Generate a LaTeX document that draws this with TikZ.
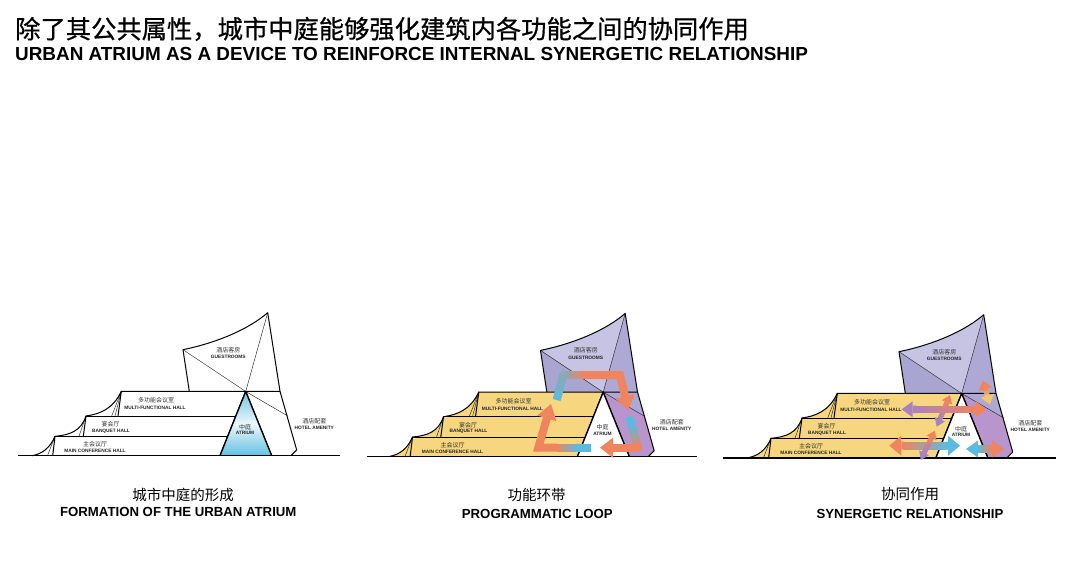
\documentclass[tikz,border=0pt]{standalone}
\usepackage{fontspec}
\setmainfont{Liberation Sans}
\newfontfamily\cjk{Noto Sans CJK SC}
\newfontfamily\cjkb[FakeBold=0.6]{Noto Sans CJK SC}
\usetikzlibrary{calc}
\definecolor{hallY}{HTML}{F6D67E}
\definecolor{gTop}{HTML}{C6C3E3}
\definecolor{gLeft}{HTML}{A9A5D1}
\definecolor{gRight}{HTML}{ADA8D4}
\definecolor{hotelP}{HTML}{B895CD}
\definecolor{arO}{HTML}{F0845F}
\definecolor{arB}{HTML}{5BBBDF}
\definecolor{arP}{HTML}{A882C0}
\definecolor{arY}{HTML}{F3C96B}
\definecolor{atTop}{HTML}{6FC4E4}
\definecolor{atBot}{HTML}{62C0E4}
\tikzset{
  bline/.style={line width=1pt,black,line join=round},
  thinline/.style={line width=.45pt,black!85},
  ground/.style={line width=1.3pt,black},
  cn/.style={inner sep=0pt,font=\cjk\fontsize{6}{7}\selectfont,text=black!80},
  en/.style={inner sep=0pt,font=\bfseries\fontsize{4.8}{5}\selectfont,text=black!85},
  capcn/.style={inner sep=0pt,font=\cjk\fontsize{14.5}{16}\selectfont},
  capen/.style={inner sep=0pt,font=\bfseries\fontsize{13.2}{14}\selectfont},
}
% gradient shaft: from, to, colour, colour, width
\newcommand{\gshaft}[5]{%
  \foreach \i in {0,...,19}{%
    \pgfmathsetmacro\gta{\i/20}%
    \pgfmathsetmacro\gtb{min(1,(\i+1.3)/20)}%
    \pgfmathtruncatemacro\gpc{5*\i+2}%
    \draw[line width=#5,color={#4!\gpc!#3}] ($(#1)!\gta!(#2)$) -- ($(#1)!\gtb!(#2)$);
  }}
% head: tip, towards, colour, length, half width
\newcommand{\ahead}[5]{%
  \coordinate (hb) at ($(#1)!#4!(#2)$);
  \fill[#3] (#1) -- ($(hb)!#5!90:(#2)$) -- ($(hb)!#5!-90:(#2)$) -- cycle;}
% double arrow: A, B, colour A, colour B, shaft width, head length, head half width
\newcommand{\dbl}[7]{%
  \coordinate (ha) at ($(#1)!#6!(#2)$);
  \coordinate (hc) at ($(#2)!#6!(#1)$);
  \gshaft{ha}{hc}{#3}{#4}{#5}
  \ahead{#1}{#2}{#3}{#6}{#7}
  \ahead{#2}{#1}{#4}{#6}{#7}}
% building: prefix, hall colour, side colour, top, left, right, hotel lower, hotel upper, dx, dy
\newcommand{\building}[9]{%
\begin{scope}[shift={(#9)}]
  \coordinate (#1top) at (267.7,312.7);
  \coordinate (#1left) at (183,349.7);
  \coordinate (#1lb) at (189.3,391.3);
  \coordinate (#1apex) at (245.7,391.5);
  \coordinate (#1lr) at (280,391.3);
  \coordinate (#1de) at (287.3,415.7);
  \coordinate (#1hr) at (296.7,450);
  \coordinate (#1hb) at (291,455.7);
  \coordinate (#1ar) at (271.7,455.7);
  \coordinate (#1al) at (220,455.7);
  \coordinate (#1t3) at (121.3,391.3);
  \coordinate (#1t2) at (86,416);
  \coordinate (#1t1) at (55,436.3);
  \coordinate (#1t0) at (32,455.7);
  \coordinate (#1e2) at (236,416);
  \coordinate (#1e1) at (228,436.3);
  % fills
  \fill[#2] (#1t0) .. controls (42,454) and (50,448) .. (#1t1)
     .. controls (70,435) and (81,431) .. (#1t2)
     .. controls (100,414) and (113,409) .. (#1t3)
     -- (#1apex) -- (#1al) -- cycle;
  \fill[#3] (#1left) .. controls (220,342) and (250,328) .. (#1top) -- (#1apex) -- cycle;
  \fill[#4] (#1left) -- (#1apex) -- (#1lb) -- cycle;
  \fill[#5] (#1top) -- (#1lr) -- (#1apex) -- cycle;
  \fill[#6] (#1apex) -- (#1lr) -- (#1de) -- cycle;
  \fill[#7] (#1apex) -- (#1de) -- (#1hr) -- (#1hb) -- (#1ar) -- cycle;
  % thin lines
  \draw[thinline] (#1left) -- (#1apex) -- (#1de);
  \draw[thinline] (#1top) -- (#1apex);
  \draw[thinline] (#1t3) -- (111.7,416);
  \draw[thinline] (#1t3) -- (115,416);
  \draw[thinline] (#1t2) -- (79,436.3);
  \draw[thinline] (#1t1) -- (47.5,455.7);
  % heavy lines
  \draw[bline] (#1t0) .. controls (42,454) and (50,448) .. (#1t1)
     .. controls (70,435) and (81,431) .. (#1t2)
     .. controls (100,414) and (113,409) .. (#1t3) -- (#1lr);
  \draw[bline] (#1t2) -- (#1e2);
  \draw[bline] (#1t1) -- (#1e1);
  \draw[bline] (#1t2) -- (83.3,436.3);
  \draw[bline] (#1t1) -- (52.7,455.7);
  \draw[bline] (#1t3) -- (118,416);
  \draw[bline] (#1lb) -- (#1left) .. controls (220,342) and (250,328) .. (#1top)
     -- (#1lr) -- (#1hr) -- (#1hb);
  \draw[line width=1.3pt,black,line join=round] (#1al) -- (#1apex) -- (#1ar);
  % labels
  \node[cn] (#1n1) at (228.3,349.7) {酒店客房};
  \node[en] (#1n2) at (228.3,356.7) {GUESTROOMS};
  \node[cn] (#1n3) at (156,400.7) {多功能会议室};
  \node[en] (#1n4) at (155,408) {MULTI-FUNCTIONAL HALL};
  \node[cn] (#1n5) at (110.7,424.3) {宴会厅};
  \node[en] (#1n6) at (111,431) {BANQUET HALL};
  \node[cn] (#1n7) at (95,444.3) {主会议厅};
  \node[en] (#1n8) at (95,450.7) {MAIN CONFERENCE HALL};
  \node[cn] (#1n11) at (314.3,421.7) {酒店配套};
  \node[en] (#1n12) at (314.3,428.3) {HOTEL AMENITY};
  #8
\end{scope}}
\begin{document}
\begin{tikzpicture}[x=1pt,y=-1pt]
\useasboundingbox (0,0) rectangle (1080,575);
\fill[white] (0,0) rectangle (1080,575);
\node[anchor=west,inner sep=0pt,font=\cjkb\fontsize{25.3}{28}\selectfont] (t1) at (15,29) {除了其公共属性，城市中庭能够强化建筑内各功能之间的协同作用};
\node[anchor=west,inner sep=0pt,font=\bfseries\fontsize{18.9}{20}\selectfont] (t2) at (15,54) {URBAN ATRIUM AS A DEVICE TO REINFORCE INTERNAL SYNERGETIC RELATIONSHIP};

% panel 1
\building{a}{white}{white}{white}{white}{white}{white}{}{0,0}
\shade[top color=atTop,bottom color=atBot,middle color=white!88!atBot] (aal) -- (aapex) -- (aar) -- cycle;
\draw[line width=1.3pt,black,line join=round] (aal) -- (aapex) -- (aar);
\node[cn] (an9) at (245,426.7) {中庭};
\node[en] (an10) at (245,432.7) {ATRIUM};
\coordinate (ga1) at (18,455.7); \coordinate (ga2) at (340,455.7);
\draw[ground] (ga1) -- (ga2);
\node[capcn] (ac1) at (183,495) {城市中庭的形成};
\node[capen] (ac2) at (178.3,512.3) {FORMATION OF THE URBAN ATRIUM};

% panel 2
\building{b}{hallY}{gTop}{gLeft}{gRight}{gRight}{hotelP}{}{357.5,0.7}
\fill[white] (bal) -- (bapex) -- (bar) -- cycle;
\draw[line width=1.3pt,black,line join=round] (bal) -- (bapex) -- (bar);
\node[cn] (bn9) at (602.5,427.4) {中庭};
\node[en] (bn10) at (602.5,433.4) {ATRIUM};
\coordinate (gb1) at (366.7,456.3); \coordinate (gb2) at (697,456.3);
\draw[ground] (gb1) -- (gb2);
\node[capcn] (bc1) at (536.7,494.7) {功能环带};
\node[capen] (bc2) at (537.3,513.7) {PROGRAMMATIC LOOP};
% loop arrows
\coordinate (p0) at (556.7,400); \coordinate (p1) at (563.3,375);
\coordinate (p2) at (585,375); \coordinate (p3) at (620,375);
\coordinate (p4) at (628.3,410);
\coordinate (q0) at (629.3,416.7); \coordinate (qm) at (632,426); \coordinate (q1) at (638,447.7); \coordinate (q2) at (600,447.7);
\coordinate (r0) at (591,447.7); \coordinate (rm) at (578,447.7); \coordinate (r1) at (557,447.7); \coordinate (r2) at (538.3,447.7);
\coordinate (r3) at (551,404);
\gshaft{p0}{p1}{arB}{arB!70!arO}{8pt}
\fill[arB!70!arO] (p1) circle (4pt);
\gshaft{p1}{p2}{arB!70!arO}{arO}{8pt}
\draw[arO,line width=8pt] (p2) -- (p3) -- ($(p4)!12pt!(p3)$);
\fill[arO] (p3) circle (4pt);
\ahead{p4}{p3}{arO}{14pt}{10pt}
\fill[arB] ($(q0)!4pt!90:(qm)$) -- ($(q0)!4pt!-90:(qm)$) -- ($(qm)!4pt!90:(q0)$) -- ($(qm)!4pt!-90:(q0)$) -- cycle;
\gshaft{qm}{q1}{arB}{arO}{8pt}
\fill[arO] (q1) circle (4pt);
\draw[arO,line width=8pt] (q1) -- ($(q2)!12pt!(q1)$);
\ahead{q2}{q1}{arO}{13pt}{10pt}
\draw[arB,line width=8pt] (r0) -- (rm);
\gshaft{rm}{r1}{arB}{arO}{8pt}
\draw[arO,line width=8pt] (r1) -- (r2) -- ($(r3)!12pt!(r2)$);
\fill[arO] (r2) circle (4pt);
\ahead{r3}{r2}{arO}{15pt}{10pt}

% panel 3
\building{c}{hallY}{gTop}{gLeft}{gRight}{gRight}{hotelP}{}{716,2}
\fill[white] (cal) -- (capex) -- (car) -- cycle;
\draw[line width=1.3pt,black,line join=round] (cal) -- (capex) -- (car);
\node[cn] (cn9) at (961,428.7) {中庭};
\node[en] (cn10) at (961,434.7) {ATRIUM};
\coordinate (gc1) at (723.3,458); \coordinate (gc2) at (1056,458);
\draw[ground] (gc1) -- (gc2);
\node[capcn] (cc1) at (910,494.3) {协同作用};
\node[capen] (cc2) at (910,514) {SYNERGETIC RELATIONSHIP};
\coordinate (s1) at (901.7,409.3); \coordinate (s2) at (986.7,409.3);
\coordinate (s3) at (889.3,445.7); \coordinate (s4) at (960,445.7);
\coordinate (s5) at (966,449); \coordinate (s6) at (1004,449);
\coordinate (s7) at (950,395); \coordinate (s8) at (936.7,426.7);
\coordinate (s9) at (935,430.7); \coordinate (s10) at (920.7,460);
\coordinate (s11) at (982.7,380.7); \coordinate (s12) at (990,404.3);
\dbl{s1}{s2}{arP}{arO}{7.5pt}{11pt}{8pt}
\dbl{s3}{s4}{arO}{arB}{8pt}{12pt}{10pt}
\dbl{s5}{s6}{arB}{arO}{8pt}{12pt}{8.5pt}
\dbl{s7}{s8}{arO}{arP}{5pt}{8pt}{5.5pt}
\dbl{s9}{s10}{arO}{arP}{5pt}{8pt}{5.5pt}
\dbl{s11}{s12}{arO}{arY}{5pt}{9pt}{7pt}
\end{tikzpicture}
\end{document}
